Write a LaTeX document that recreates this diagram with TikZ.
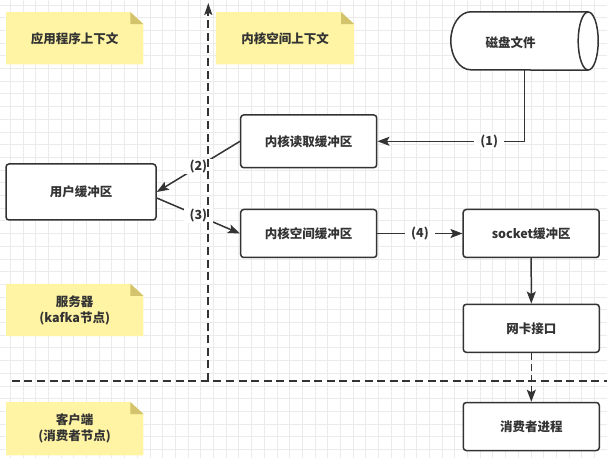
\documentclass[tikz,border=0pt]{standalone}
\usepackage{fontspec}
\setmainfont{Noto Sans CJK SC}
\usetikzlibrary{arrows.meta,positioning}
\definecolor{ink}{HTML}{333333}
\definecolor{gridc}{HTML}{EBEBEB}
\definecolor{notey}{HTML}{FFF4A3}
\definecolor{notefold}{HTML}{D2C36C}
\pgfdeclarelayer{gridlayer}
\pgfdeclarelayer{notelayer}
\pgfsetlayers{gridlayer,notelayer,main}
\tikzset{
  buf/.style={draw=ink, fill=white, rounded corners=3pt, line width=1.5pt,
              minimum width=136pt, minimum height=48pt, inner sep=0pt,
              font=\bfseries\fontsize{12.5}{15}\selectfont, text=ink},
  note/.style={minimum width=137pt, minimum height=52pt, inner sep=0pt, align=center,
               font=\bfseries\fontsize{12.5}{16}\selectfont, text=ink},
  flow/.style={-{Stealth[length=12pt,width=9pt,inset=2.5pt]}, line width=1.5pt, draw=ink},
  lbl/.style={fill=white, inner ysep=1pt, inner xsep=6pt,
              font=\bfseries\fontsize{12.5}{15}\selectfont, text=ink},
  divider/.style={draw=ink, line width=1.9pt, dash pattern=on 8pt off 4.6pt},
  gridline/.style={draw=gridc, line width=0.9pt}
}

\begin{document}
\begin{tikzpicture}[x=1pt,y=1pt]
  \useasboundingbox (0,0) rectangle (607,458);

  % grid paper
  \begin{pgfonlayer}{gridlayer}
    \fill[white] (0,0) rectangle (607,458);
    \foreach \gx in {0,...,47}
      \draw[gridline] ({10.3+12.7*\gx},0) -- ({10.3+12.7*\gx},458);
    \foreach \gy in {0,...,35}
      \draw[gridline] (0,{453-12.7*\gy}) -- (607,{453-12.7*\gy});
  \end{pgfonlayer}

  % sticky notes
  \node[note] (ctxapp) at (74.7,419.7) {应用程序上下文};
  \node[note, minimum width=138pt] (ctxkern) at (285,419.7) {内核空间上下文};
  \node[note] (srv) at (74.7,148) {服务器\\(kafka节点)};
  \node[note, minimum height=53pt] (cli) at (74.7,29.3) {客户端\\(消费者节点)};
  \begin{pgfonlayer}{notelayer}
    \foreach \n in {ctxapp,ctxkern,srv,cli} {
      \fill[notey] (\n.south west) -- (\n.north west) -- ([xshift=-13pt]\n.north east)
        -- ([yshift=-12pt]\n.north east) -- (\n.south east) -- cycle;
      \fill[notefold] ([xshift=-13pt]\n.north east) -- ([xshift=-13pt,yshift=-12pt]\n.north east)
        -- ([yshift=-12pt]\n.north east) -- cycle;
    }
  \end{pgfonlayer}

  % disk file
  \node[minimum width=147pt, minimum height=58pt, inner sep=0pt] (disk) at (524.5,417) {};
  \filldraw[fill=white, draw=ink, line width=1.5pt]
    ([xshift=-10pt]disk.north east) -- ([xshift=20pt]disk.north west)
    arc[start angle=90, end angle=270, x radius=20pt, y radius=29pt]
    -- ([xshift=-10pt]disk.south east);
  \filldraw[fill=white, draw=ink, line width=1.5pt]
    ([xshift=-10pt]disk.east) ellipse [x radius=10pt, y radius=29pt];
  \node[font=\bfseries\fontsize{12.5}{15}\selectfont, text=ink] (disktxt)
    at ([xshift=-14pt,yshift=-1.5pt]disk.center) {磁盘文件};

  % buffers
  \node[buf, minimum height=52.7pt] (kread) at (308.7,316.7) {内核读取缓冲区};
  \node[buf, minimum width=150pt, minimum height=56pt] (user) at (81,266) {用户缓冲区};
  \node[buf] (kspace) at (308.7,224.5) {内核空间缓冲区};
  \node[buf] (sock) at (531.2,224.5) {socket缓冲区};
  \node[buf] (nic) at (531.3,129.7) {网卡接口};
  \node[buf] (cons) at (531.3,31.5) {消费者进程};

  % copy path
  \draw[flow] (disk.south) |- node[lbl, pos=0.62] {(1)} (kread.east);
  \draw[flow] (kread.west) -- node[lbl] {(2)} (user.east);
  \draw[flow] ([yshift=-6pt]user.east) -- node[lbl] {(3)} (kspace.west);
  \draw[flow] (kspace.east) -- node[lbl] {(4)} (sock.west);
  \draw[flow] (sock.south) -- (nic.north);
  \draw[flow, dash pattern=on 7pt off 4pt] (nic.south) -- (cons.north);

  % context and host boundaries
  \coordinate (vbot) at (208.3,77);
  \coordinate (vtop) at (208.3,455);
  \coordinate (hleft) at (11.7,77);
  \coordinate (hright) at (607,77);
  \draw[divider, -{Stealth[length=12pt,width=8pt,inset=2.5pt]}] (vbot) -- (vtop);
  \draw[divider] (hleft) -- (hright);
\end{tikzpicture}
\end{document}
